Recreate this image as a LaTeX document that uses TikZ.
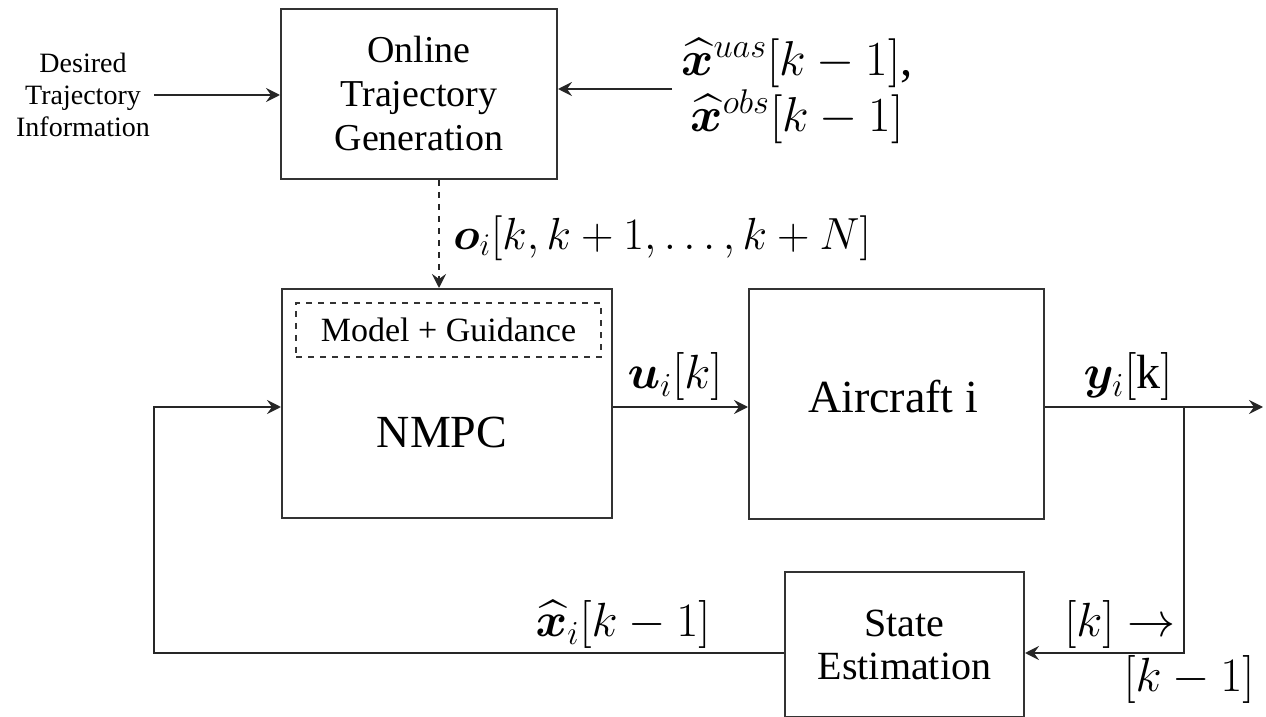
\RequirePackage{fix-cm}
\documentclass[tikz,border=0pt]{standalone}
\usepackage{amsmath,bm}
\usepackage{fontspec}
\setmainfont{Liberation Serif}
\usetikzlibrary{arrows.meta,calc}
\begin{document}
\begin{tikzpicture}[x=0.5pt,y=-0.5pt,
  blk/.style={draw=black!80,line width=1pt,inner sep=0pt},
  conn/.style={draw=black!85,line width=1pt,-{Stealth[length=7pt,width=7pt,inset=2.5pt]}},
  mlab/.style={inner sep=0pt,font=\fontsize{24pt}{26pt}\selectfont}]
\useasboundingbox (0,0) rectangle (1266,717);
% blocks
\node[blk,minimum width=138pt,minimum height=85pt,align=center,font=\fontsize{19pt}{22pt}\selectfont] (otg) at (419,94) {Online\\Trajectory\\Generation};
\node[blk,minimum width=165pt,minimum height=114.5pt] (nmpc) at (447,403.5) {};
\node[draw=black!80,dashed,line width=0.8pt,minimum width=152.5pt,minimum height=27pt,inner sep=0pt,font=\fontsize{17pt}{20pt}\selectfont] (mg) at (448.5,330) {Model + Guidance};
\node[inner sep=0pt,font=\fontsize{23pt}{27pt}\selectfont] (nmpct) at (442,432) {NMPC};
\node[blk,minimum width=147.5pt,minimum height=115pt] (ac) at (896.5,404) {};
\node[inner sep=0pt,font=\fontsize{23pt}{27pt}\selectfont] (act) at (893,397) {Aircraft i};
\node[blk,minimum width=119.5pt,minimum height=72.5pt,align=center,font=\fontsize{20pt}{21.5pt}\selectfont] (se) at (904.5,644.5) {State\\Estimation};
\node[inner sep=2pt,align=center,font=\fontsize{14pt}{16pt}\selectfont] (des) at (83,95) {Desired\\Trajectory\\Information};
% labels
\node[mlab,align=center,font=\fontsize{24.5pt}{24pt}\selectfont] (xin) at (797,91) {$\widehat{\bm{x}}^{uas}[k-1]$,\\$\widehat{\bm{x}}^{obs}[k-1]$};
\node[mlab,anchor=west,font=\fontsize{22.5pt}{25pt}\selectfont] (ol) at (453,238) {$\bm{o}_i[k,k+1,\dots,k+N]$};
\node[mlab] (ul) at (675,377) {$\bm{u}_i[k]$};
\node[mlab] (yl) at (1128,377) {$\bm{y}_i[\mathrm{k}]$};
\node[mlab] (xl) at (623,625) {$\widehat{\bm{x}}_i[k-1]$};
\node[mlab] (kl) at (1120,625) {$[k]\rightarrow$};
\node[mlab] (k1l) at (1189,680) {$[k-1]$};
% coordinates
\coordinate (xs) at (672,89);
\coordinate (dx) at (439,0);
\coordinate (ly) at (0,407);
\coordinate (out) at (1263,407);
\coordinate (br) at (1184,407);
\coordinate (sey) at (0,653);
\coordinate (fb) at (154,653);
% connectors
\draw[conn] (des.east) -- (otg.west |- des.east);
\draw[conn] (xs) -- (otg.east |- xs);
\draw[conn,dashed] (otg.south -| dx) -- (nmpc.north -| dx);
\draw[conn] (nmpc.east |- ly) -- (ac.west |- ly);
\draw[conn] (ac.east |- ly) -- (out);
\draw[conn] (br) -- (br |- sey) -- (se.east |- sey);
\draw[conn] (se.west |- sey) -- (fb) -- (fb |- ly) -- (nmpc.west |- ly);
\end{tikzpicture}
\end{document}
